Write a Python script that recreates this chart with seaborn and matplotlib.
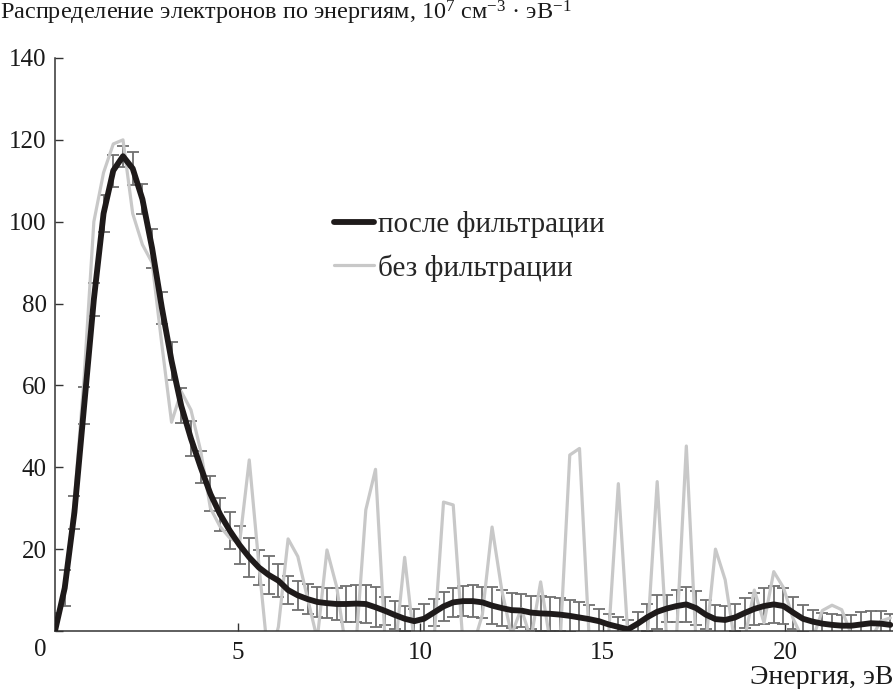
import numpy as np
import pandas as pd
import matplotlib
matplotlib.use("Agg")
import matplotlib.pyplot as plt
import seaborn as sns

# energy grid step (eV), read from the spacing of the vertices
step = 0.266
n_points = 87

# after filtering (black, smooth)
filtered = [0, 10.5, 29, 55, 81, 102, 112.5, 116, 113, 105.5,
            93.5, 79, 66, 55, 47, 40, 33.5, 28.5, 24.5, 21,
            18, 15.5, 13.7, 12.3, 10, 8.7, 7.8, 7.1, 6.8, 6.6,
            6.6, 6.7, 6.6, 5.8, 4.9, 3.9, 3.0, 2.4, 3.0, 4.5,
            6.0, 7.0, 7.3, 7.3, 7.0, 6.2, 5.6, 5.1, 5.0, 4.5,
            4.3, 4.2, 4.0, 3.7, 3.3, 2.9, 2.4, 1.6, 1.0, 0.4,
            1.8, 3.4, 4.7, 5.5, 6.1, 6.5, 5.6, 4.0, 2.9, 2.7,
            3.3, 4.4, 5.4, 6.1, 6.5, 6.1, 4.5, 3.0, 2.3, 1.8,
            1.5, 1.3, 1.3, 1.6, 1.9, 1.8, 1.5]

# without filtering (grey, noisy; negative values fall below the axis)
raw = [0, 10, 32, 62, 100, 112, 119, 120, 102, 94.4,
       90, 70, 51, 58.5, 54, 44, 30, 25.5, 22.7, 21.4,
       41.8, 16, -8, 1, 22.5, 18.2, 8, -2, 19.8, 10.8,
       -5, -3, 29.6, 39.5, -3, -5, 18, -3, -5, -3,
       31.5, 30.8, -3, -4, 4, 25.4, 10, -1, 5.5, -2,
       12, -3, -3, 43, 44.6, -2, -3, -1, 36, -2,
       -3, -1, 36.5, -3, -1, 45.2, -3, -3, 20, 12.5,
       -3, -2, 10, 2, 14.5, 10.6, 3, -2, -2, 5,
       6.3, 5.2, -1, -3, -2, 2.4, 3.2]

# half-width of the error bars on the filtered curve
errors = [4.5, 4.5, 4.0, 4.5, 4.0, 4.5, 3.9, 2.6, 4.0, 3.7,
          4.7, 3.9, 4.7, 4.3, 4.3, 3.9, 4.3, 4.0, 4.5, 4.7,
          4.7, 4.3, 4.7, 4.1, 3.5, 3.6, 3.7, 3.7, 3.7, 4.0,
          4.3, 4.5, 4.7, 4.9, 3.5, 3.5, 3.0, 3.0, 3.7, 3.4,
          3.5, 3.5, 3.7, 3.9, 3.8, 4.5, 4.5, 4.3, 4.0, 4.0,
          4.3, 4.2, 4.1, 3.9, 3.8, 3.5, 2.9, 2.6, 2.3, 2.3,
          2.9, 3.3, 4.1, 3.3, 4.0, 4.3, 4.2, 3.5, 3.4, 3.3,
          3.3, 3.6, 3.9, 4.3, 4.5, 4.5, 3.9, 3.3, 2.9, 2.6,
          2.6, 2.6, 2.6, 3.0, 3.0, 3.0, 2.6]

x_ticks = [0, 5, 10, 15, 20]
x_ticklabels = ["", "5", "10", "15", "20"]
y_ticks = [0, 20, 40, 60, 80, 100, 120, 140]
y_ticklabels = ["", "20", "40", "60", "80", "100", "120", "140"]

energy = np.arange(n_points) * step
df = pd.DataFrame({"E": energy, "filtered": filtered, "raw": raw, "err": errors})

sns.set_style("ticks")
plt.rcParams["font.family"] = ["Liberation Serif", "DejaVu Serif"]
plt.rcParams["mathtext.fontset"] = "custom"
plt.rcParams["mathtext.rm"] = "Liberation Serif"
plt.rcParams["mathtext.it"] = "Liberation Serif:italic"
plt.rcParams["axes.unicode_minus"] = True

fs = 18
fig = plt.figure(figsize=(8.93, 6.89), dpi=100)
ax = fig.add_axes([55 / 893, 1 - 631 / 689, 1 - 55 / 893, (631 - 58) / 689])

ax.errorbar(df["E"], df["filtered"], yerr=df["err"], fmt="none",
            ecolor="#707070", elinewidth=1.3, capsize=4.5, capthick=1.3, zorder=1)
sns.lineplot(data=df, x="E", y="raw", ax=ax, color="#c8c8c8", linewidth=2.3,
             label="без фильтрации", zorder=2)
sns.lineplot(data=df, x="E", y="filtered", ax=ax, color="#1e1a1a", linewidth=4.2,
             label="после фильтрации", zorder=3)

ax.set_xlim(0, 22.95)
ax.set_ylim(0, 140)
ax.set_xticks(x_ticks)
ax.set_xticklabels(x_ticklabels)
ax.set_yticks(y_ticks)
ax.set_yticklabels(y_ticklabels)
ax.tick_params(axis="both", direction="in", length=6, width=1.0, color="#333333",
               labelsize=fs, labelcolor="#1a1a1a")
ax.tick_params(axis="x", pad=8)
ax.tick_params(axis="y", pad=6)
ax.set_xlabel("")
ax.set_ylabel("")
sns.despine(ax=ax)
for side in ["left", "bottom"]:
    ax.spines[side].set_color("#333333")
    ax.spines[side].set_linewidth(1.1)

# legend: filtered first
handles, labels = ax.get_legend_handles_labels()
order = [labels.index("после фильтрации"), labels.index("без фильтрации")]
ax.legend([handles[i] for i in order], [labels[i] for i in order],
          loc="upper left", bbox_to_anchor=(0.333, 0.733), frameon=False,
          fontsize=21, handlelength=1.38, handletextpad=0.12, labelspacing=0.55,
          borderpad=0, borderaxespad=0)

fig.text(0.0, 1 - 13 / 689, "Распределение электронов по энергиям, 10$^{7}$ см$^{-3}$ · эВ$^{-1}$",
         ha="left", va="center", fontsize=17.5, color="#1a1a1a")
fig.text(40 / 893, 1 - 650 / 689, "0", ha="center", va="center", fontsize=fs, color="#1a1a1a")
fig.text(1.0, 1 - 678 / 689, "Энергия, эВ", ha="right", va="center", fontsize=20, color="#1a1a1a")

fig.savefig("out.png", dpi=100)
